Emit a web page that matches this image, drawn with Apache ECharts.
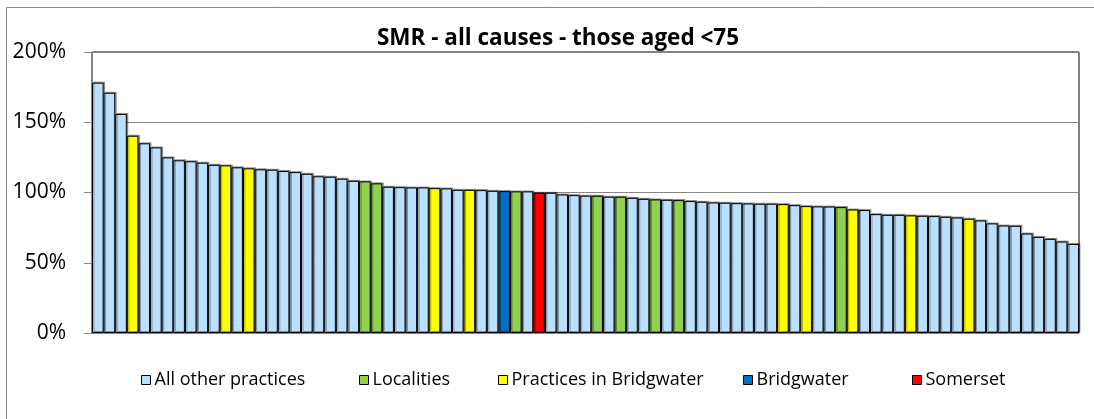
<!DOCTYPE html>
<html><head><meta charset="utf-8">
<script src="https://cdn.jsdelivr.net/npm/echarts@6/dist/echarts.min.js"></script>
<style>html,body{margin:0;padding:0;background:#fff}#c{width:1094px;height:419px}</style>
</head><body><div id="c"></div>
<script>
// SMR values (%) for each practice/area, in sorted order
const values = [178.2,171.0,155.9,140.4,135.0,132.1,125.0,122.9,122.2,121.2,
  119.7,119.3,117.9,117.2,116.5,116.2,115.3,114.5,113.3,111.5,
  111.2,109.8,108.3,107.9,106.5,104.1,103.8,103.6,103.6,103.1,
  102.9,101.9,101.9,101.7,101.2,101.0,100.8,100.8,99.8,99.8,
  98.6,98.1,97.7,97.7,97.0,97.0,96.2,95.5,95.1,94.8,
  94.6,93.9,93.4,92.9,92.7,92.4,92.2,92.0,92.0,91.7,
  91.0,90.3,90.1,90.0,89.6,87.9,87.5,84.6,84.1,84.1,
  83.7,83.4,83.2,82.7,82.2,81.3,80.1,78.0,76.5,76.3,
  70.8,68.4,67.0,65.1,63.4];
// group index of each bar: 0 other, 1 locality, 2 Bridgwater practice, 3 Bridgwater, 4 Somerset
const groups = [0,0,0,2,0,0,0,0,0,0,
  0,2,0,2,0,0,0,0,0,0,
  0,0,0,1,1,0,0,0,0,2,
  0,0,2,0,0,3,1,0,4,0,
  0,0,0,1,0,1,0,0,1,0,
  1,0,0,0,0,0,0,0,0,2,
  0,2,0,0,1,2,0,0,0,0,
  2,0,0,0,0,2,0,0,0,0,
  0,0,0,0,0];
const seriesNames = ['All other practices','Localities','Practices in Bridgwater','Bridgwater','Somerset'];
const seriesColors = ['#BBE0FF','#92D050','#FFFF00','#0070C0','#FF0000'];
const yTicks = [0,50,100,150,200];
const categories = values.map((v,i)=>'P'+(i+1));

const chart = echarts.init(document.getElementById('c'), null, {renderer:'canvas'});
const font = '"Open Sans", "Liberation Sans", sans-serif';
const legendLeft = [136, 354, 493, 738, 907];
const series = seriesNames.map((name,g)=>({
  name, type:'bar', stack:'all',
  barCategoryGap:'0%',
  data: values.map((v,i)=>groups[i]===g ? v : null),
  itemStyle:{color:seriesColors[g], borderColor:'#000', borderWidth:1,
    shadowColor:'rgba(0,0,0,0.35)', shadowOffsetX:1.5, shadowOffsetY:-1, shadowBlur:0},
  emphasis:{disabled:true},
  animation:false
}));
chart.setOption({
  animation:false,
  title:{text:'SMR - all causes - those aged <75', left:553, textAlign:'center', top:22,
    textStyle:{fontFamily:font, fontWeight:'bold', fontSize:22.5, color:'#000'}},
  grid:{left:92, right:15, top:52, bottom:86, show:true, borderColor:'#000', borderWidth:1},
  legend: seriesNames.map((n,g)=>({
    data:[n], left:legendLeft[g], top:366, itemWidth:9, itemHeight:9, itemGap:4,
    icon:'rect', selectedMode:false,
    itemStyle:{borderColor:'#000', borderWidth:1},
    textStyle:{fontFamily:font, fontSize:18, color:'#000', padding:[0,0,0,-1]}
  })),
  xAxis:{type:'category', data:categories, axisLabel:{show:false}, axisTick:{show:false},
    axisLine:{lineStyle:{color:'#868686'}}},
  yAxis:{type:'value', min:0, max:200, interval:50,
    axisLine:{show:true, lineStyle:{color:'#868686'}},
    axisTick:{show:true, inside:false, length:8, lineStyle:{color:'#868686'}},
    splitLine:{lineStyle:{color:'#868686'}},
    axisLabel:{formatter:v=>yTicks.includes(v)?v+'%':'', fontFamily:font, fontSize:21, color:'#000', margin:26}},
  graphic:[{type:'rect', shape:{x:6.5, y:7.5, width:1200, height:600}, silent:true,
    style:{fill:null, stroke:'#868686', lineWidth:1}}],
  series
});
</script></body></html>
